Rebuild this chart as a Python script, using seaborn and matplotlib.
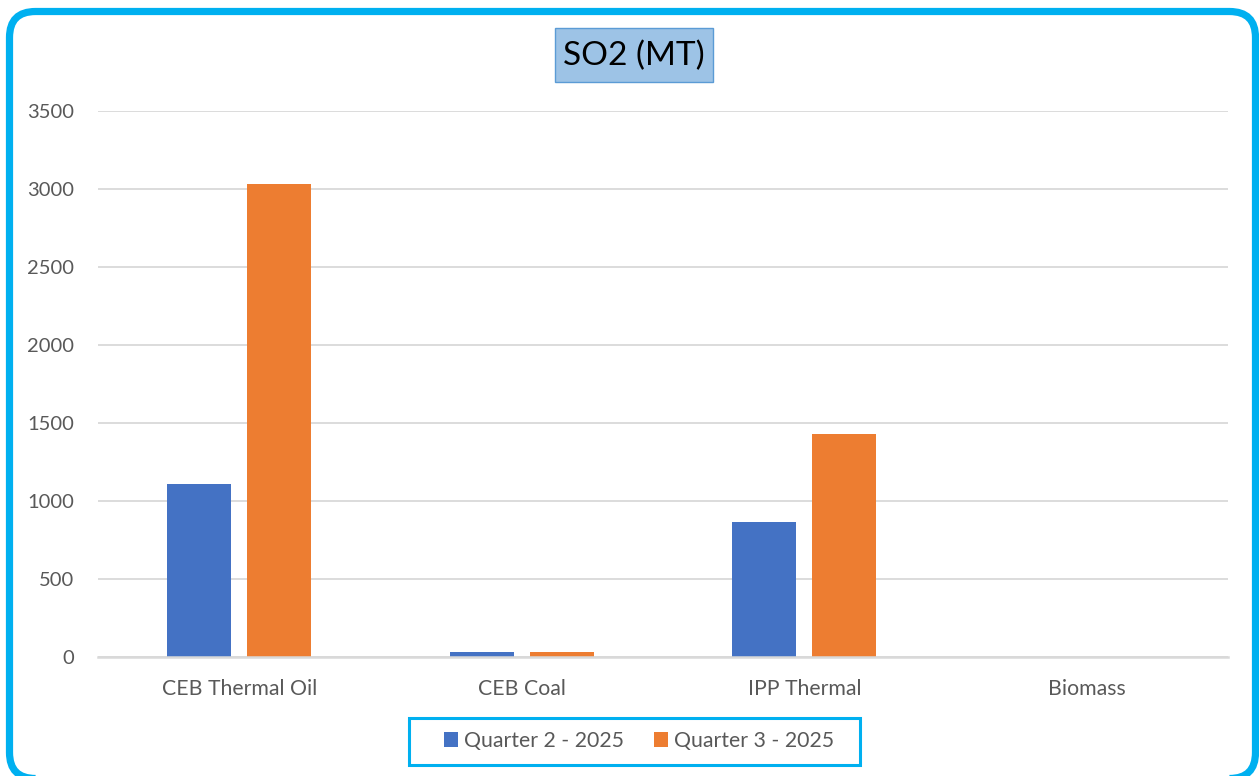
import matplotlib
matplotlib.use("Agg")
import matplotlib.pyplot as plt
from matplotlib.patches import FancyBboxPatch, Rectangle, Patch
from matplotlib.transforms import IdentityTransform
import seaborn as sns
import pandas as pd

categories = ["CEB Thermal Oil", "CEB Coal", "IPP Thermal", "Biomass"]
series_names = ["Quarter 2 - 2025", "Quarter 3 - 2025"]
q2_values = [1109, 35, 865, 0]
q3_values = [3032, 32, 1429, 0]
y_ticks = [0, 500, 1000, 1500, 2000, 2500, 3000, 3500]
title_text = "SO2 (MT)"

colors = ["#4472C4", "#ED7D31"]
grid_color = "#D9D9D9"
label_color = "#595959"
frame_color = "#00B0F0"

df = pd.DataFrame({
    "category": categories * 2,
    "series": [series_names[0]] * len(categories) + [series_names[1]] * len(categories),
    "value": q2_values + q3_values,
})

sns.set_theme(style="white")
plt.rcParams["font.family"] = ["Lato", "DejaVu Sans"]

W, H = 1259, 776
fig = plt.figure(figsize=(W / 100, H / 100), dpi=100)

# rounded outer frame, in pixel units (bottom edge runs just past the canvas)
frame = FancyBboxPatch((9.5, -2.5), 1246, H + 2.5 - 11.5,
                       boxstyle="round,pad=0,rounding_size=26",
                       transform=IdentityTransform(), fill=False,
                       edgecolor=frame_color, linewidth=5.2, zorder=0)
fig.patches.append(frame)

ax = fig.add_axes([98 / W, (H - 657) / H, (1228 - 98) / W, (657 - 111) / H])
sns.barplot(data=df, x="category", y="value", hue="series", palette=colors,
            width=0.567, gap=0.2, ax=ax, legend=False, saturation=1,
            edgecolor="none", linewidth=0)

ax.set_ylim(0, 3500)
ax.set_yticks(y_ticks)
ax.set_xlim(-0.5, len(categories) - 0.5)
ax.yaxis.grid(True, color=grid_color, linewidth=1.3)
ax.set_axisbelow(True)
for s in ["top", "right", "left"]:
    ax.spines[s].set_visible(False)
ax.spines["bottom"].set_color(grid_color)
ax.spines["bottom"].set_linewidth(1.8)
ax.set_xlabel("")
ax.set_ylabel("")
ax.tick_params(axis="y", length=0, pad=17, labelsize=14.5, labelcolor=label_color)
ax.tick_params(axis="x", length=0, pad=16, labelsize=15.3, labelcolor=label_color)

# title box
fig.patches.append(Rectangle((555, H - 82), 158, 54, transform=IdentityTransform(),
                             facecolor="#9DC3E6", edgecolor="#5B9BD5", linewidth=1))
fig.text(634 / W, 1 - 56 / H, title_text, ha="center", va="center",
         fontsize=24, color="#000000")

# legend with its own box
fig.patches.append(Rectangle((409 / W, 1 - 765 / H), (860 - 409) / W, (765 - 718) / H,
                             transform=fig.transFigure, fill=False,
                             edgecolor=frame_color, linewidth=2.2))
handles = [Patch(facecolor=c, edgecolor="none") for c in colors]
fig.legend(handles, series_names, loc="center", bbox_to_anchor=(639 / W, 1 - 741 / H),
           ncol=2, frameon=False, fontsize=15.3, labelcolor=label_color,
           handlelength=0.65, handleheight=0.65, handletextpad=0.3,
           columnspacing=1.4)

fig.savefig("out.png", dpi=100, facecolor="white")
